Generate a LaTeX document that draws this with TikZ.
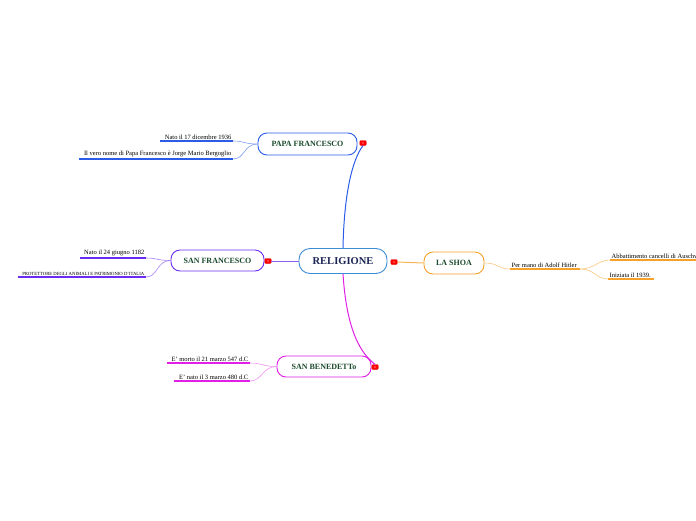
\documentclass[tikz,border=0pt]{standalone}
\usepackage{fontspec}
\setmainfont{Liberation Serif}
\usepackage{xcolor}
\usetikzlibrary{positioning, calc}

\definecolor{topictext}{HTML}{1B4A2C}
\definecolor{centertext}{HTML}{1A2455}
\definecolor{centerblue}{HTML}{3D8CD6}
\definecolor{papablue}{HTML}{2A5CE8}
\definecolor{francpurple}{HTML}{6A2CF2}
\definecolor{shoaorange}{HTML}{F5A12A}
\definecolor{benmagenta}{HTML}{E020E6}

\begin{document}
\begin{tikzpicture}[x=1pt, y=-1pt,
    topic/.style={draw, rounded corners=9pt, line width=0.9pt, fill=white, inner sep=0pt,
      text=topictext, font=\fontsize{8}{9}\selectfont\bfseries},
    marker/.style={fill=red, draw=red!85!black, rounded corners=1.2pt, line width=0.3pt,
      minimum width=6.5pt, minimum height=5pt, inner sep=0pt,
      path picture={\fill[white] (path picture bounding box.center) circle (0.7pt);}},
    sub/.style={inner sep=1.5pt, text=black, font=\fontsize{6.5}{7}\selectfont},
    branch/.style={line width=1pt},
    twig/.style={line width=0.6pt},
    uline/.style={line width=1.4pt}]

  \useasboundingbox (0,0) rectangle (696,520);
  \clip (0,0) rectangle (696,520);

  % central idea and main topics
  \node[topic, draw=centerblue, text=centertext, font=\fontsize{10.5}{11}\selectfont\bfseries,
    minimum width=88pt, minimum height=25pt, rounded corners=11pt] (rel) at (343,261) {RELIGIONE};
  \node[topic, draw=papablue, minimum width=99pt, minimum height=22pt] (papa) at (307.5,144) {PAPA FRANCESCO};
  \node[topic, draw=francpurple, minimum width=93pt, minimum height=21pt] (franc) at (217.5,260.5) {SAN FRANCESCO};
  \node[topic, draw=shoaorange, minimum width=60pt, minimum height=22pt] (shoa) at (454,263) {LA SHOA};
  \node[topic, draw=benmagenta, minimum width=94pt, minimum height=21pt] (bened) at (324,366.5) {SAN BENEDETTo};

  \node[marker] (mpapa) at (363,143) {};
  \node[marker] (mfranc) at (268,261) {};
  \node[marker] (mshoa) at (394,262) {};
  \node[marker] (mbened) at (375,367) {};

  \draw[branch, papablue] (rel.north) .. controls (344,195) and (352,160) .. (mpapa.south);
  \draw[branch, francpurple!75] (mfranc.east) -- (rel.west);
  \draw[branch, shoaorange!80] (mshoa.east) -- (shoa.west);
  \draw[branch, benmagenta] (rel.south) .. controls (346,320) and (356,350) .. (mbened.north);

  % PAPA FRANCESCO
  \node[sub, anchor=south east] (p1) at (233,141) {Nato il 17 dicembre 1936};
  \node[sub, anchor=south east] (p2) at (233,159) {Il vero nome di Papa Francesco è Jorge Mario Bergoglio};
  \draw[uline, papablue] ([xshift=-3pt]p1.south west) -- (p1.south east);
  \draw[uline, papablue] ([xshift=-3pt]p2.south west) -- (p2.south east);
  \draw[twig, papablue!60] (papa.west) .. controls +(-14,0) and +(12,0) .. (p1.south east);
  \draw[twig, papablue!60] (papa.west) .. controls +(-14,0) and +(12,0) .. (p2.south east);

  % SAN FRANCESCO
  \node[sub, anchor=south east] (f1) at (146,258) {Nato il 24 giugno 1182};
  \node[sub, anchor=south east, font=\fontsize{4.7}{5}\selectfont] (f2) at (146,277)
    {PROTETTORE DEGLI ANIMALI E PATRIMONIO D'ITALIA};
  \draw[uline, francpurple] ([xshift=-3pt]f1.south west) -- (f1.south east);
  \draw[uline, francpurple] ([xshift=-3pt]f2.south west) -- (f2.south east);
  \draw[twig, francpurple!60] (franc.west) .. controls +(-14,0) and +(12,0) .. (f1.south east);
  \draw[twig, francpurple!60] (franc.west) .. controls +(-14,0) and +(12,0) .. (f2.south east);

  % LA SHOA
  \node[sub, anchor=south west] (s1) at (510,269) {Per mano di Adolf Hitler};
  \node[sub, anchor=south west] (s2) at (610,260) {Abbattimento cancelli di Auschwitz};
  \node[sub, anchor=south west] (s3) at (608,279) {Iniziata il 1939.};
  \draw[uline, shoaorange] (s1.south west) -- ([xshift=2pt]s1.south east);
  \draw[uline, shoaorange] (s2.south west) -- ([xshift=2pt]s2.south east);
  \draw[uline, shoaorange] (s3.south west) -- ([xshift=2pt]s3.south east);
  \coordinate (s1end) at ([xshift=2pt]s1.south east);
  \draw[twig, shoaorange!60] (shoa.east) .. controls +(14,0) and +(-12,0) .. (s1.south west);
  \draw[twig, shoaorange!60] (s1end) .. controls +(14,0) and +(-12,0) .. (s2.south west);
  \draw[twig, shoaorange!60] (s1end) .. controls +(14,0) and +(-12,0) .. (s3.south west);

  % SAN BENEDETTO
  \node[sub, anchor=south east] (b1) at (250,363) {E' morto il 21 marzo 547 d.C};
  \node[sub, anchor=south east] (b2) at (250,381) {E' nato il 3 marzo 480 d.C};
  \draw[uline, benmagenta] ([xshift=-3pt]b1.south west) -- (b1.south east);
  \draw[uline, benmagenta] ([xshift=-3pt]b2.south west) -- (b2.south east);
  \draw[twig, benmagenta!50] (bened.west) .. controls +(-14,0) and +(12,0) .. (b1.south east);
  \draw[twig, benmagenta!50] (bened.west) .. controls +(-14,0) and +(12,0) .. (b2.south east);
\end{tikzpicture}
\end{document}
